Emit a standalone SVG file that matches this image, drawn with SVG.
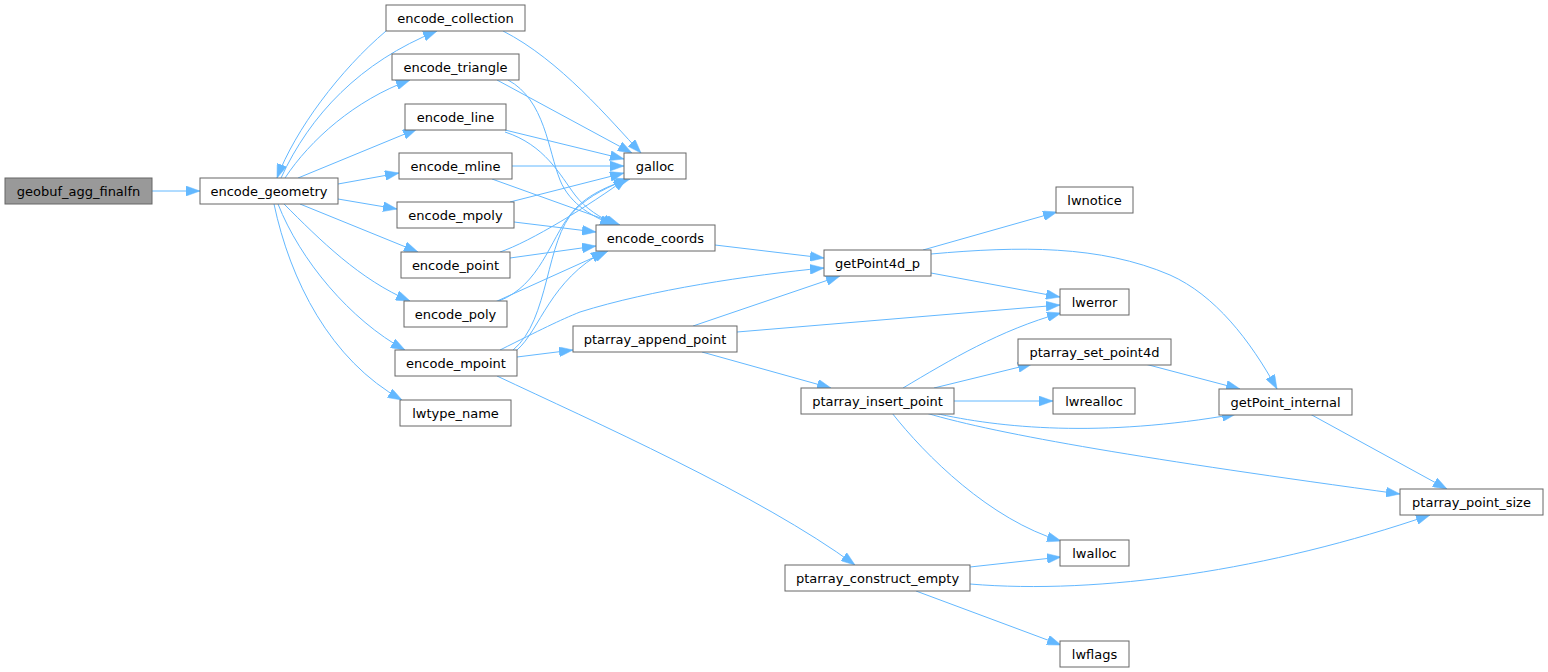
<svg xmlns="http://www.w3.org/2000/svg" width="1548" height="672" viewBox="0 0 1548 672">
<style>
.n rect{fill:#ffffff;stroke:#666666;stroke-width:1}
.n.root rect{fill:#999999}
.n text{font-family:"DejaVu Sans","Liberation Sans",sans-serif;font-size:13px;fill:#000000;text-anchor:middle}
.e path{fill:none;stroke:#63b8ff;stroke-width:1;marker-end:url(#ah)}
</style>
<defs>
<marker id="ah" markerUnits="userSpaceOnUse" markerWidth="14" markerHeight="10" viewBox="0 0 14 10" refX="14" refY="5" orient="auto">
<path d="M0,0 L14,5 L0,10 z" fill="#63b8ff" stroke="#63b8ff" stroke-width="0.5"/>
</marker>
</defs>
<rect width="1548" height="672" fill="#ffffff"/>
<g id="edges" class="e">
<path d="M152,191 L200,191"/>
<path d="M281,178 C310,115 360,62 437,31"/>
<path d="M386,31 C340,70 295,130 277,178"/>
<path d="M285,178 C310,140 355,100 410,80"/>
<path d="M298,178 L417,129"/>
<path d="M338,184 L399,173"/>
<path d="M338,199 L397,209"/>
<path d="M300,204 L418,252"/>
<path d="M284,204 C320,240 360,280 410,301"/>
<path d="M278,204 C300,260 350,320 405,350"/>
<path d="M274,204 C290,280 330,360 402,400"/>
<path d="M503,31 C560,60 610,120 641,153"/>
<path d="M497,80 L632,153"/>
<path d="M508,80 C545,100 548,150 560,180 C570,205 595,218 614,225"/>
<path d="M505,130 L624,159"/>
<path d="M505,132 C545,145 560,175 575,195 C585,208 600,218 617,225"/>
<path d="M512,166 L624,166"/>
<path d="M492,179 L620,225"/>
<path d="M510,202 L624,173"/>
<path d="M514,222 L596,232"/>
<path d="M500,252 C530,242 590,205 627,178"/>
<path d="M510,258 L596,246"/>
<path d="M499,301 C540,285 550,240 570,215 C585,195 610,185 630,179"/>
<path d="M495,302 L608,251"/>
<path d="M513,350 C550,320 545,240 575,210 C590,195 610,186 628,179"/>
<path d="M517,350 C540,330 550,280 605,251"/>
<path d="M500,350 C540,330 560,320 580,312 C650,290 750,275 824,268"/>
<path d="M517,357 L573,350"/>
<path d="M497,376 C590,420 760,495 855,565"/>
<path d="M715,245 L824,258"/>
<path d="M693,326 L840,276"/>
<path d="M737,332 L1060,305"/>
<path d="M702,352 L831,388"/>
<path d="M923,250 L1057,212"/>
<path d="M931,273 L1060,297"/>
<path d="M931,254 C1020,246 1100,245 1170,275 C1215,295 1250,340 1277,389"/>
<path d="M903,388 C950,360 1000,330 1061,313"/>
<path d="M934,388 L1032,364"/>
<path d="M954,401 L1053,401"/>
<path d="M934,413 C1000,428 1100,438 1236,414"/>
<path d="M926,413 C1000,435 1150,460 1400,494"/>
<path d="M892,413 C925,455 990,520 1061,541"/>
<path d="M1145,364 L1240,389"/>
<path d="M1310,414 L1447,489"/>
<path d="M970,567 L1061,557"/>
<path d="M970,584 C1100,595 1270,570 1430,515"/>
<path d="M916,591 L1061,645"/>
</g>
<g id="geobuf_agg_finalfn" class="n root"><rect x="5" y="178" width="147" height="26"/><text x="78.5" y="195.5">geobuf_agg_finalfn</text></g>
<g id="encode_geometry" class="n"><rect x="200" y="178" width="138" height="26"/><text x="269" y="195.5">encode_geometry</text></g>
<g id="encode_collection" class="n"><rect x="386" y="5" width="139" height="26"/><text x="455.5" y="22.5">encode_collection</text></g>
<g id="encode_triangle" class="n"><rect x="392" y="54" width="127" height="26"/><text x="455.5" y="71.5">encode_triangle</text></g>
<g id="encode_line" class="n"><rect x="405" y="104" width="101" height="26"/><text x="455.5" y="121.5">encode_line</text></g>
<g id="encode_mline" class="n"><rect x="399" y="153" width="113" height="26"/><text x="455.5" y="170.5">encode_mline</text></g>
<g id="encode_mpoly" class="n"><rect x="397" y="202" width="117" height="26"/><text x="455.5" y="219.5">encode_mpoly</text></g>
<g id="encode_point" class="n"><rect x="401" y="252" width="109" height="26"/><text x="455.5" y="269.5">encode_point</text></g>
<g id="encode_poly" class="n"><rect x="404" y="301" width="103" height="26"/><text x="455.5" y="318.5">encode_poly</text></g>
<g id="encode_mpoint" class="n"><rect x="395" y="350" width="122" height="26"/><text x="456" y="367.5">encode_mpoint</text></g>
<g id="lwtype_name" class="n"><rect x="400" y="400" width="111" height="26"/><text x="455.5" y="417.5">lwtype_name</text></g>
<g id="galloc" class="n"><rect x="624" y="153" width="62" height="26"/><text x="655" y="170.5">galloc</text></g>
<g id="encode_coords" class="n"><rect x="596" y="225" width="119" height="26"/><text x="655.5" y="242.5">encode_coords</text></g>
<g id="getPoint4d_p" class="n"><rect x="824" y="250" width="107" height="26"/><text x="877.5" y="267.5">getPoint4d_p</text></g>
<g id="ptarray_append_point" class="n"><rect x="573" y="326" width="164" height="26"/><text x="655" y="343.5">ptarray_append_point</text></g>
<g id="ptarray_insert_point" class="n"><rect x="801" y="388" width="153" height="26"/><text x="877.5" y="405.5">ptarray_insert_point</text></g>
<g id="lwnotice" class="n"><rect x="1056" y="187" width="77" height="26"/><text x="1094.5" y="204.5">lwnotice</text></g>
<g id="lwerror" class="n"><rect x="1060" y="289" width="69" height="26"/><text x="1094.5" y="306.5">lwerror</text></g>
<g id="ptarray_set_point4d" class="n"><rect x="1018" y="339" width="153" height="26"/><text x="1094.5" y="356.5">ptarray_set_point4d</text></g>
<g id="lwrealloc" class="n"><rect x="1053" y="388" width="82" height="26"/><text x="1094" y="405.5">lwrealloc</text></g>
<g id="getPoint_internal" class="n"><rect x="1219" y="389" width="133" height="26"/><text x="1285.5" y="406.5">getPoint_internal</text></g>
<g id="ptarray_point_size" class="n"><rect x="1400" y="489" width="143" height="26"/><text x="1471.5" y="506.5">ptarray_point_size</text></g>
<g id="lwalloc" class="n"><rect x="1060" y="540" width="69" height="26"/><text x="1094.5" y="557.5">lwalloc</text></g>
<g id="lwflags" class="n"><rect x="1060" y="641" width="69" height="26"/><text x="1094.5" y="658.5">lwflags</text></g>
<g id="ptarray_construct_empty" class="n"><rect x="785" y="565" width="185" height="26"/><text x="877.5" y="582.5">ptarray_construct_empty</text></g>
</svg>
